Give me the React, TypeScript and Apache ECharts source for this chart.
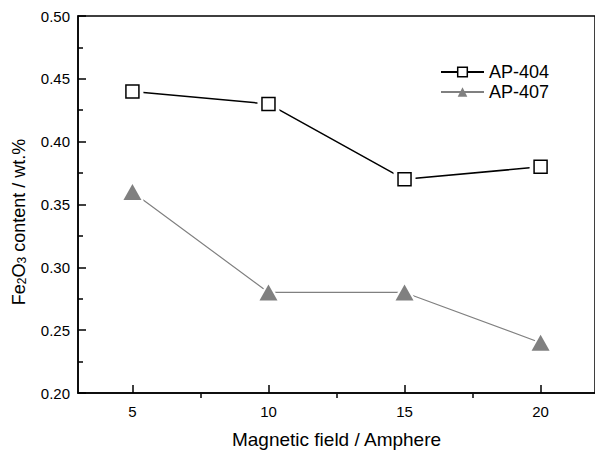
import React, { useEffect, useRef } from "react";
import * as echarts from "echarts";

const fields = [5, 10, 15, 20];
const ap404 = [0.44, 0.43, 0.37, 0.38];
const ap407 = [0.36, 0.28, 0.28, 0.24];
const majorX = [5, 10, 15, 20];
const minorX = [7.5, 12.5, 17.5];

const FONT = "Liberation Sans, Arial, Helvetica, sans-serif";

export default function App() {
  const ref = useRef<HTMLDivElement>(null);
  useEffect(() => {
    if (!ref.current) return;
    const chart = echarts.init(ref.current, null, { renderer: "svg" });
    const d404 = fields.map((x, i) => [x, ap404[i]]);
    const d407 = fields.map((x, i) => [x, ap407[i]]);
    const hidden = { lineStyle: { width: 0, opacity: 0 } };
    chart.setOption({
      animation: false,
      textStyle: { fontFamily: FONT, color: "#000" },
      grid: {
        left: 78, top: 16, right: -2, bottom: 56, show: true,
        borderColor: "#000", borderWidth: 1.5, backgroundColor: "transparent",
      },
      legend: {
        orient: "vertical", left: 440, top: 63, padding: 0,
        itemWidth: 43, itemHeight: 12, itemGap: 2,
        data: [
          { name: "AP-404", itemStyle: { color: "#fff", borderColor: "#000", borderWidth: 1.5 } },
          { name: "AP-407", itemStyle: { color: "#808080", borderColor: "#808080", borderWidth: 0 } },
        ],
        textStyle: { fontSize: 18, color: "#000", fontFamily: FONT },
      },
      xAxis: [
        {
          type: "value", min: 3, max: 22,
          axisLine: { show: true, onZero: false, lineStyle: { color: "#000", width: 1.5 } },
          axisTick: { show: true, inside: true, length: 8, customValues: majorX, lineStyle: { color: "#000", width: 1.5 } },
          axisLabel: { show: true, customValues: majorX, margin: 11, fontSize: 15, color: "#000", fontFamily: FONT },
          splitLine: { show: false },
          name: "Magnetic field / Amphere", nameLocation: "middle", nameGap: 37,
          nameTextStyle: { fontSize: 19, color: "#000", fontFamily: FONT },
        },
        {
          type: "value", min: 3, max: 22, position: "top", offset: -382,
          axisLine: { show: false },
          axisTick: { show: true, inside: false, length: 4, customValues: minorX, lineStyle: { color: "#000", width: 1.5 } },
          axisLabel: { show: false },
          splitLine: { show: false },
        },
      ],
      yAxis: {
        type: "value", min: 0.2, max: 0.5, interval: 0.05,
        axisLine: { show: true, lineStyle: { color: "#000", width: 1.5 } },
        axisTick: { show: true, inside: true, length: 8, lineStyle: { color: "#000", width: 1.5 } },
        minorTick: { show: true, splitNumber: 2, length: 5, lineStyle: { color: "#000", width: 1.5 } },
        axisLabel: { margin: 8, fontSize: 15, color: "#000", fontFamily: FONT, formatter: (v: number) => v.toFixed(2) },
        splitLine: { show: false },
      },
      graphic: [
        {
          type: "text", x: 19, y: 222, rotation: Math.PI / 2,
          style: {
            text: "Fe{sub|2}O{sub|3} content / wt.%",
            fontSize: 18, fontFamily: FONT, fill: "#000",
            align: "center", verticalAlign: "middle",
            rich: {
              sub: { fontSize: 12, fontFamily: FONT, verticalAlign: "bottom", lineHeight: 12, padding: [9, 0, 0, 0] },
            },
          },
        },
      ],
      series: [
        {
          name: "AP-404", type: "line", data: d404,
          symbol: "rect", symbolSize: 13,
          lineStyle: { color: "#000", width: 1.5 },
          itemStyle: { color: "#fff", borderColor: "#fff", borderWidth: 9 },
        },
        {
          name: "AP-407", type: "line", data: d407,
          symbol: "triangle", symbolSize: [18, 16],
          lineStyle: { color: "#808080", width: 1.2 },
          itemStyle: { color: "#fff", borderColor: "#fff", borderWidth: 4, borderJoin: "round" },
        },
        {
          name: "sym404", type: "line", data: d404, silent: true,
          symbol: "rect", symbolSize: 13, ...hidden,
          itemStyle: { color: "#fff", borderColor: "#000", borderWidth: 1.5 },
        },
        {
          name: "sym407", type: "line", data: d407, silent: true,
          symbol: "triangle", symbolSize: [18, 16], ...hidden,
          itemStyle: { color: "#808080" },
        },
      ],
    });
    return () => chart.dispose();
  }, []);
  return <div ref={ref} style={{ width: 595, height: 454, position: "absolute", left: 0, top: 0, background: "#fff" }} />;
}
